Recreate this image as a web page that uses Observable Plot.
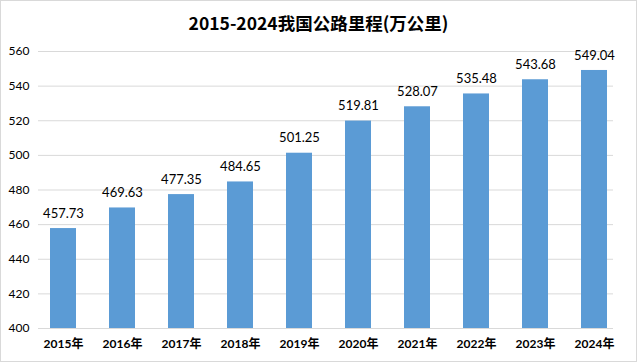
<!DOCTYPE html>
<html><head><meta charset="utf-8">
<script src="https://cdn.jsdelivr.net/npm/d3@7"></script>
<script src="https://cdn.jsdelivr.net/npm/@observablehq/plot@0.6"></script>
<style>
body{margin:0;background:#fff;}
#box{position:relative;width:637px;height:362px;box-sizing:border-box;border:1px solid #d9d9d9;background:#fff;overflow:hidden;}
#title{position:absolute;top:9px;left:0;width:100%;text-align:center;font:bold 17.5px "Noto Sans CJK SC","Lato",sans-serif;color:#000;}
#chart{position:absolute;top:0;left:0;}
</style></head>
<body><div id="box"><div id="title">2015-2024我国公路里程(万公里)</div><div id="chart"></div></div>
<script>
const years = ["2015年","2016年","2017年","2018年","2019年","2020年","2021年","2022年","2023年","2024年"];
const values = [457.73,469.63,477.35,484.65,501.25,519.81,528.07,535.48,543.68,549.04];
const yTicks = [400,420,440,460,480,500,520,540,560];
const data = years.map((y,i)=>({year:y,value:values[i]}));
const chart = Plot.plot({
  width:635, height:360,
  marginTop:50, marginBottom:33, marginLeft:32, marginRight:13,
  style:{fontFamily:"Lato, 'Noto Sans CJK SC', sans-serif", fontSize:"12px", color:"#000", background:"transparent"},
  x:{domain:years, paddingInner:0.56, paddingOuter:0.28, label:null, tickSize:0, tickPadding:11},
  y:{domain:[400,560], ticks:yTicks, label:null, tickSize:0, tickPadding:4, tickFormat:d=>String(d)},
  marks:[
    Plot.ruleY(yTicks,{stroke:"#d9d9d9", insetLeft:5, insetRight:10}),
    Plot.barY(data,{x:"year", y1:400, y2:"value", fill:"#5b9bd5"}),
    Plot.text(data,{x:"year", y:"value", text:d=>d.value.toFixed(2), dy:-15, fontSize:13, fill:"#000"}),
    Plot.axisX({tickSize:0, tickPadding:11, fontWeight:"bold", fontSize:12, fontFamily:"Lato, 'Noto Sans CJK SC', sans-serif"}),
    Plot.axisY({ticks:yTicks, tickSize:0, tickPadding:4, fontSize:12})
  ]
});
document.getElementById("chart").appendChild(chart);
</script></body></html>
